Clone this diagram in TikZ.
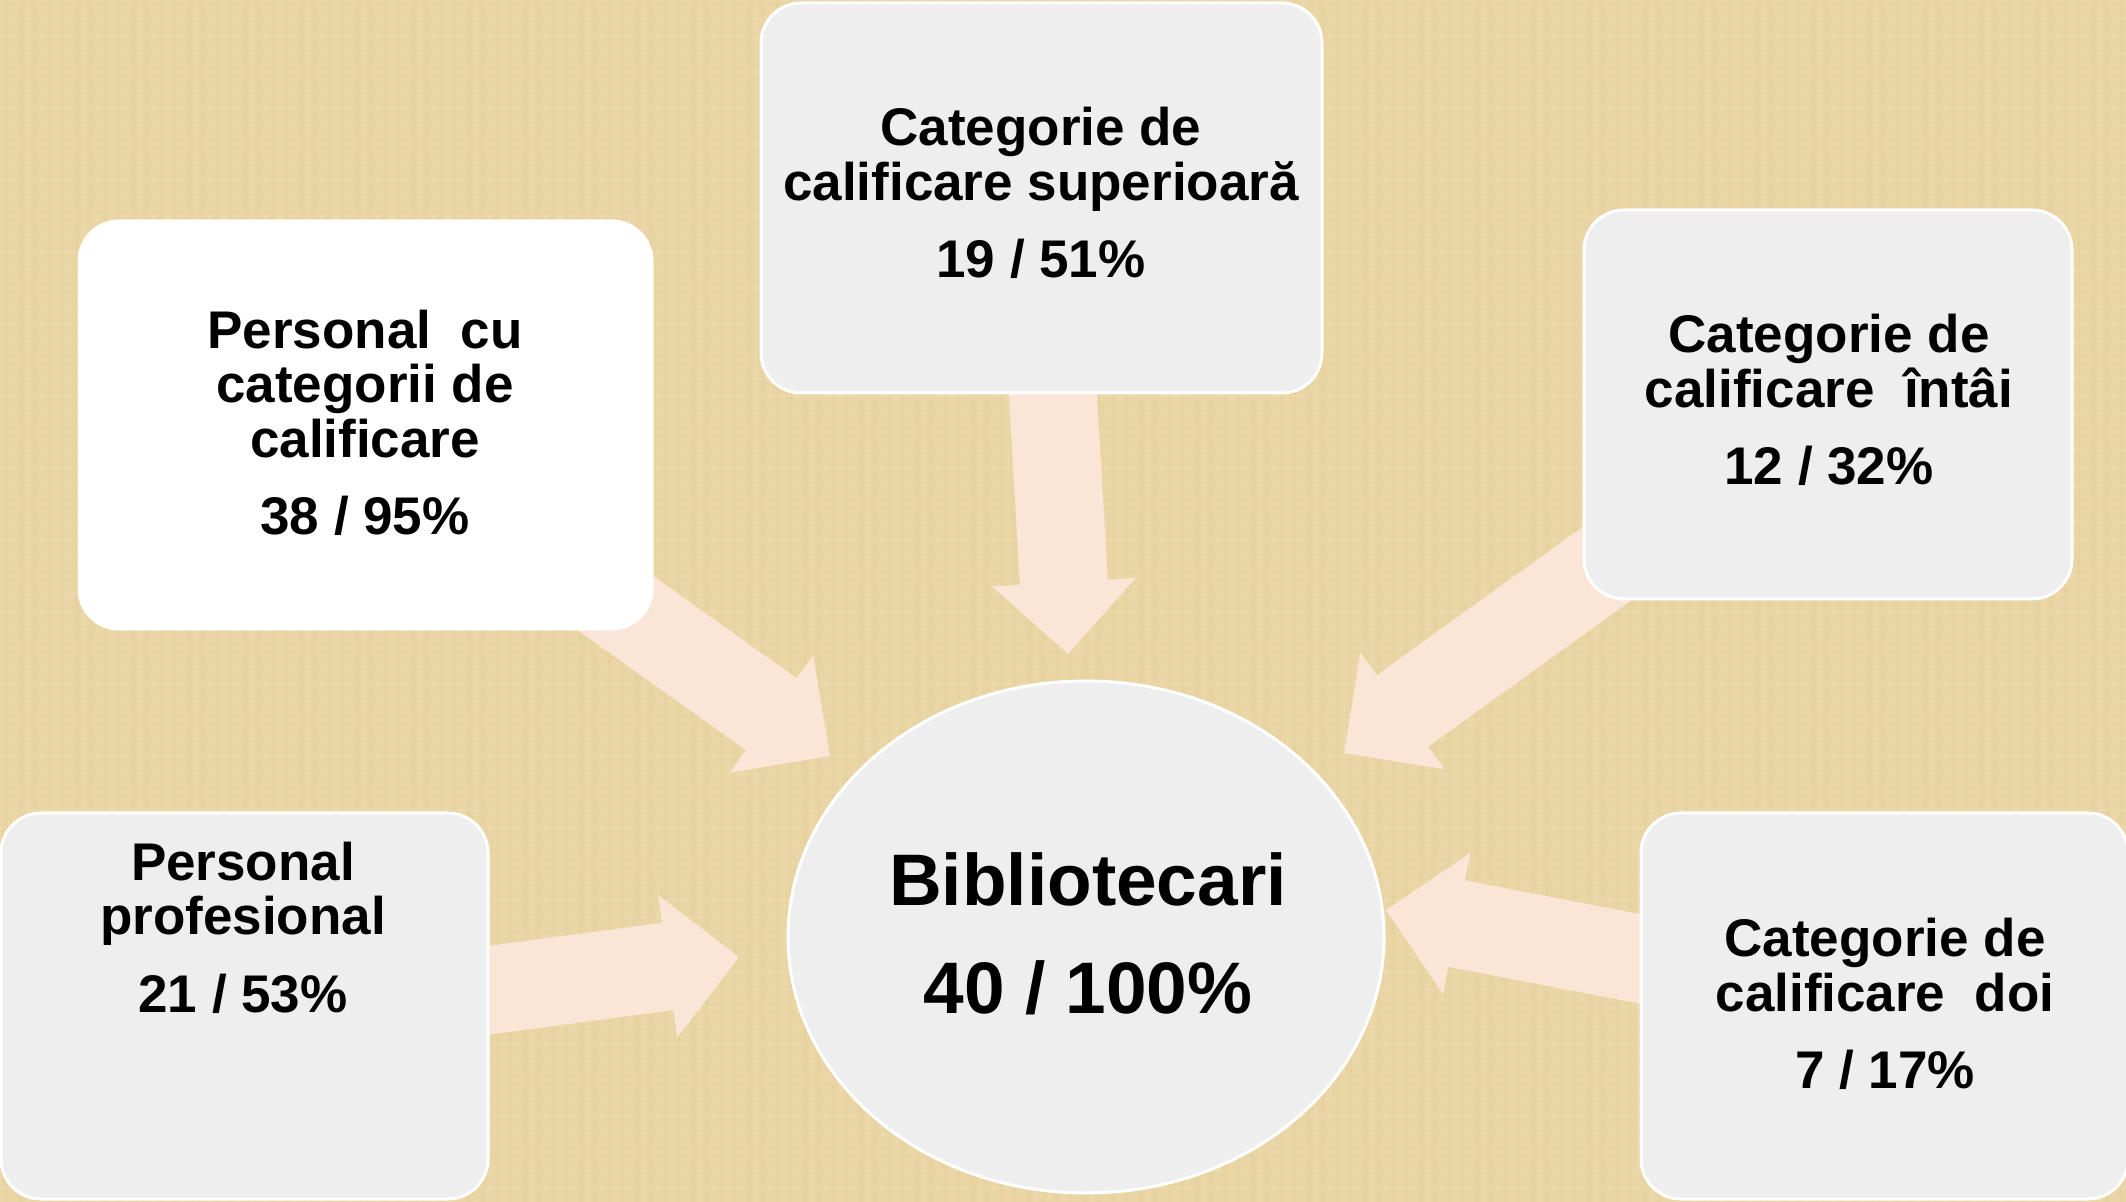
\documentclass[tikz,border=0pt]{standalone}
\usepackage{fontspec}
\setmainfont{Liberation Sans}
\usetikzlibrary{calc,shapes.geometric}
\definecolor{bgc}{HTML}{E9D5A4}
\definecolor{bgl}{HTML}{F2E2BA}
\definecolor{bgd}{HTML}{D9C28C}
\definecolor{boxc}{HTML}{EEEEEE}
\definecolor{arrc}{HTML}{FBE5D6}
\newcommand\blockarrow[2]{%
  \coordinate (hc) at ($(#2)!36pt!(#1)$);
  \fill[arrowfill] ($(#1)!22pt!90:(#2)$) -- ($(hc)!22pt!-90:(#1)$) -- ($(hc)!36pt!-90:(#1)$) -- (#2)
    -- ($(hc)!36pt!90:(#1)$) -- ($(hc)!22pt!90:(#1)$) -- ($(#1)!22pt!-90:(#2)$) -- cycle;}
\begin{document}
\begin{tikzpicture}[x=0.5pt,y=-0.5pt,
  boxst/.style={draw=white, line width=1.5pt, fill=boxc, rounded corners=20pt, inner sep=0pt},
  arrowfill/.style={fill=arrc},
  lbl/.style={font=\fontsize{26.5pt}{27pt}\selectfont\bfseries, anchor=base, inner sep=0pt},
  big/.style={font=\fontsize{36.5pt}{37pt}\selectfont\bfseries, anchor=base, inner sep=0pt}]
\useasboundingbox (0,0) rectangle (2126,1202);
\clip (0,0) rectangle (2126,1202);
\fill[bgc] (0,0) rectangle (2126,1202);
% faint woven texture of the background
\foreach \i in {0,14,...,2126} {
  \draw[bgl, opacity=0.35, line width=1.2pt] (\i,0) -- (\i,1202);
  \draw[bgd, opacity=0.18, line width=0.6pt] (\i+7,0) -- (\i+7,1202);
}
\foreach \j in {0,18,...,1202} {
  \draw[bgl, opacity=0.25, line width=1pt] (0,\j) -- (2126,\j);
}
% positions of boxes (arrow starts) and arrow tips
\coordinate (c1) at (1041.5,198);
\coordinate (c2) at (365.5,425);
\coordinate (c3) at (1828,404.5);
\coordinate (s4) at (370,1006);
\coordinate (c5) at (1884.5,1006);
\coordinate (e1) at (1068,654);
\coordinate (e2) at (830,756);
\coordinate (e3) at (1344,753);
\coordinate (e4) at (739,957);
\coordinate (e5) at (1386,910);
\blockarrow{c1}{e1}
\blockarrow{c2}{e2}
\blockarrow{c3}{e3}
\blockarrow{s4}{e4}
\blockarrow{c5}{e5}
% boxes
\node[boxst, minimum width=280.5pt, minimum height=195pt] (b1) at (c1) {};
\node[boxst, fill=white, minimum width=286.5pt, minimum height=204pt] (b2) at (c2) {};
\node[boxst, minimum width=244pt, minimum height=194.5pt] (b3) at (c3) {};
\node[boxst, minimum width=243.5pt, minimum height=193pt] (b4) at (244.5,1006) {};
\node[boxst, minimum width=243.5pt, minimum height=193pt] (b5) at (c5) {};
\node[ellipse, draw=white, line width=1.5pt, fill=boxc, minimum width=298pt, minimum height=256pt, inner sep=0pt] (bib) at (1086,937) {};
% texts
\node[lbl] (t1a) at (1041,146) {Categorie de};
\node[lbl] (t1b) at (1041,201) {calificare superioară};
\node[lbl] (t1c) at (1041,278) {19 / 51\%};
\node[lbl] (t2a) at (365,349) {Personal\ \ cu};
\node[lbl] (t2b) at (365,403) {categorii de};
\node[lbl] (t2c) at (365,458) {calificare};
\node[lbl] (t2d) at (365,535) {38 / 95\%};
\node[lbl] (t3a) at (1829,353) {Categorie de};
\node[lbl] (t3b) at (1829,408) {calificare\ \ întâi};
\node[lbl] (t3c) at (1829,485) {12 / 32\%};
\node[lbl] (t4a) at (243,880) {Personal};
\node[lbl] (t4b) at (243,935) {profesional};
\node[lbl] (t4c) at (243,1012) {21 / 53\%};
\node[lbl] (t5a) at (1885,956) {Categorie de};
\node[lbl] (t5b) at (1885,1011) {calificare\ \ doi};
\node[lbl] (t5c) at (1885,1088) {7 / 17\%};
\node[big] (t6a) at (1088,906) {Bibliotecari};
\node[big] (t6b) at (1088,1013) {40 / 100\%};
\end{tikzpicture}
\end{document}
